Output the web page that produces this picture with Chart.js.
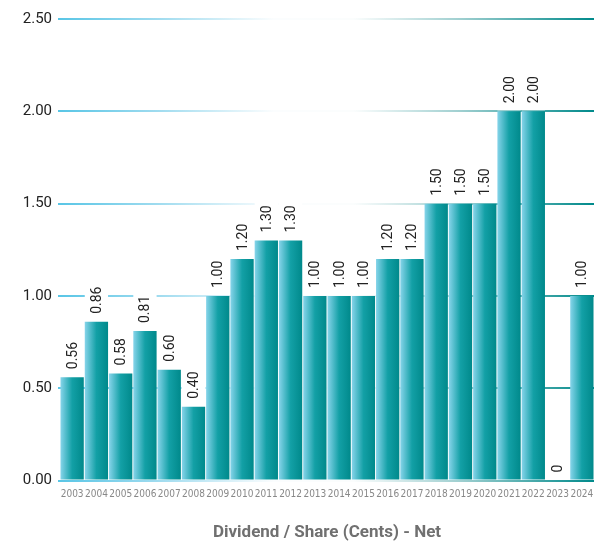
<!DOCTYPE html>
<html>
<head>
<meta charset="utf-8">
<script src="https://cdn.jsdelivr.net/npm/chart.js@4"></script>
<style>
  html, body { margin: 0; padding: 0; background: #fff; }
  #wrap { width: 605px; height: 543px; }
</style>
</head>
<body>
<div id="wrap"><canvas id="chart" width="605" height="543"></canvas></div>
<script>
const years = ["2003","2004","2005","2006","2007","2008","2009","2010","2011","2012","2013",
  "2014","2015","2016","2017","2018","2019","2020","2021","2022","2023","2024"];
const dividend = [0.56, 0.86, 0.58, 0.81, 0.60, 0.40, 1.00, 1.20, 1.30, 1.30, 1.00,
  1.00, 1.00, 1.20, 1.20, 1.50, 1.50, 1.50, 2.00, 2.00, 0, 1.00];
const yTicks = [0, 0.5, 1.0, 1.5, 2.0, 2.5];
const titleText = "Dividend / Share (Cents) - Net";

const BAR_PCT = 0.96;

function barGradient(c) {
  const chart = c.chart;
  if (!chart.chartArea) return "#0a9a9e";
  const xs = chart.scales.x;
  const cx = xs.getPixelForValue(c.dataIndex);
  const w = xs.width / years.length * BAR_PCT;
  const g = chart.ctx.createLinearGradient(cx - w / 2, 0, cx + w / 2, 0);
  g.addColorStop(0, "#86d4ea");
  g.addColorStop(0.5, "#13a0a6");
  g.addColorStop(1, "#00898b");
  return g;
}

function gridGradient(c) {
  const chart = c.chart;
  const a = chart.chartArea;
  if (!a) return "#cccccc";
  const g = chart.ctx.createLinearGradient(a.left, 0, a.right, 0);
  g.addColorStop(0, "#5ac6e6");
  g.addColorStop(0.18, "#9edbef");
  g.addColorStop(0.4, "#fbfdfe");
  g.addColorStop(0.55, "#fbfdfd");
  g.addColorStop(0.75, "#9fcfd0");
  g.addColorStop(1, "#008a8b");
  return g;
}

// value labels above bars, rotated, on white
const valueLabels = {
  id: "valueLabels",
  afterDatasetsDraw(chart) {
    const ctx = chart.ctx;
    const meta = chart.getDatasetMeta(0);
    ctx.save();
    ctx.font = "14px Roboto";
    meta.data.forEach((bar, i) => {
      const v = dividend[i];
      const txt = v === 0 ? "0" : v.toFixed(2);
      const tw = ctx.measureText(txt).width;
      const half = bar.width / 2;
      ctx.fillStyle = "#ffffff";
      ctx.fillRect(bar.x - half, bar.y - tw - 12, bar.width, tw + 11);
      ctx.translate(bar.x, bar.y - 8);
      ctx.rotate(-Math.PI / 2);
      ctx.fillStyle = "#222222";
      ctx.textAlign = "left";
      ctx.textBaseline = "middle";
      ctx.fillText(txt, 0, 1);
      ctx.setTransform(1, 0, 0, 1, 0, 0);
    });
    ctx.restore();
  }
};

new Chart(document.getElementById("chart").getContext("2d"), {
  type: "bar",
  data: {
    labels: years,
    datasets: [{
      data: dividend,
      backgroundColor: barGradient,
      borderWidth: 0,
      barPercentage: BAR_PCT,
      categoryPercentage: 1
    }]
  },
  options: {
    responsive: false,
    animation: false,
    layout: { padding: { top: 19, right: 11, left: 0, bottom: 0 } },
    plugins: {
      legend: { display: false },
      tooltip: { enabled: false }
    },
    scales: {
      x: {
        grid: { display: false },
        border: { display: false },
        ticks: {
          font: { family: "'DejaVu Sans Condensed', 'Liberation Sans Narrow', Roboto", size: 10 },
          color: "#888888",
          maxRotation: 0,
          autoSkip: false,
          padding: 0
        },
        title: {
          display: true,
          text: titleText,
          font: { family: "Roboto", size: 17, weight: "bold" },
          color: "#707070",
          padding: { top: 22, bottom: 0 }
        }
      },
      y: {
        min: 0,
        max: 2.5,
        afterBuildTicks(s) { s.ticks = yTicks.map(v => ({ value: v })); },
        grid: { color: gridGradient, lineWidth: 2, drawTicks: true, tickLength: 2 },
        border: { display: false },
        ticks: {
          font: { family: "Roboto", size: 15 },
          color: "#222222",
          padding: 6,
          callback: v => Number(v).toFixed(2)
        },
        afterFit(s) { s.width = 60; }
      }
    }
  },
  plugins: [valueLabels]
});
</script>
</body>
</html>
